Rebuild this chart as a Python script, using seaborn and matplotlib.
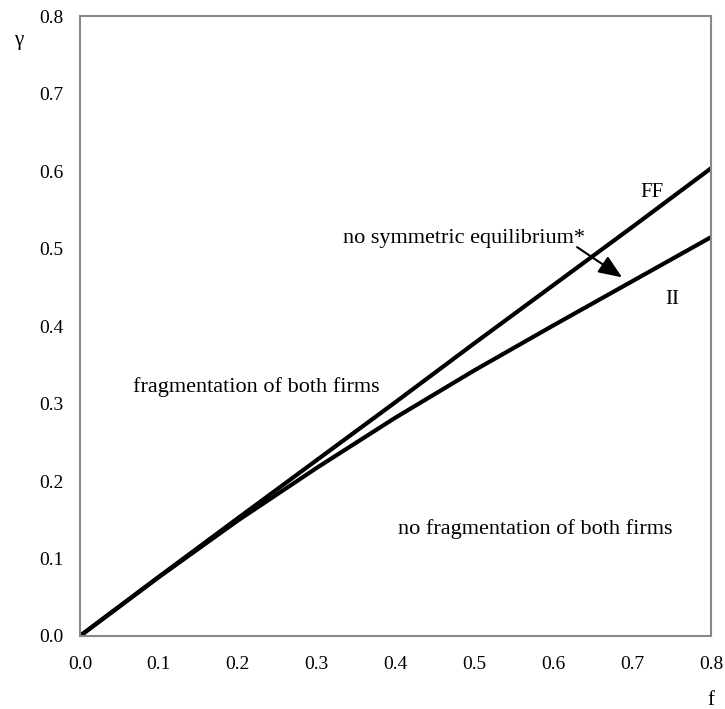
import numpy as np
import pandas as pd
import matplotlib
matplotlib.use("Agg")
import matplotlib.pyplot as plt
import seaborn as sns

# values
f_vals = [0.0, 0.1, 0.2, 0.3, 0.4, 0.5, 0.6, 0.7, 0.8]
ff_vals = [0.0, 0.0765, 0.152, 0.227, 0.302, 0.378, 0.453, 0.528, 0.604]
ii_vals = [0.0, 0.076, 0.149, 0.217, 0.282, 0.343, 0.401, 0.458, 0.515]
tick_vals = [0.0, 0.1, 0.2, 0.3, 0.4, 0.5, 0.6, 0.7, 0.8]

df = pd.DataFrame({
    "f": f_vals * 2,
    "gamma": ff_vals + ii_vals,
    "curve": ["FF"] * len(f_vals) + ["II"] * len(f_vals),
})

sns.set_style("white")
plt.rcParams["font.family"] = ["Liberation Serif", "DejaVu Serif"]
plt.rcParams["font.size"] = 13
plt.rcParams["text.color"] = "black"
plt.rcParams["xtick.color"] = "black"
plt.rcParams["ytick.color"] = "black"

fig = plt.figure(figsize=(7.25, 7.09), dpi=100)
ax = fig.add_axes([0.1103, 0.103, 0.8707, 0.874])

sns.lineplot(data=df, x="f", y="gamma", units="curve", estimator=None,
             color="black", linewidth=3, ax=ax, legend=False,
             solid_joinstyle="round", solid_capstyle="round")

ax.set_xlim(0, 0.8)
ax.set_ylim(0, 0.8)
ax.set_xticks(tick_vals)
ax.set_yticks(tick_vals)
ax.set_xticklabels([f"{t:.1f}" for t in tick_vals])
ax.set_yticklabels([f"{t:.1f}" for t in tick_vals])
ax.tick_params(axis="both", direction="out", length=3.6, width=1.2,
               color="#555555", labelcolor="black", labelsize=14)
ax.tick_params(axis="x", pad=11)
ax.tick_params(axis="y", pad=8)
for s in ax.spines.values():
    s.set_color("#888888")
    s.set_linewidth(1.5)
ax.set_xlabel("")
ax.set_ylabel("")

# axis names
ax.text(-0.078, 0.769, "\u03b3", fontsize=15, ha="center", va="center", clip_on=False)
ax.text(0.8, -0.083, "f", fontsize=15, ha="center", va="center", clip_on=False)

# region labels
ax.text(0.067, 0.321, "fragmentation of both firms", fontsize=16, ha="left", va="center")
ax.text(0.403, 0.138, "no fragmentation of both firms", fontsize=16, ha="left", va="center")
ax.text(0.333, 0.513, "no symmetric equilibrium*", fontsize=16, ha="left", va="center")
ax.text(0.725, 0.573, "FF", fontsize=15, ha="center", va="center")
ax.text(0.751, 0.434, "II", fontsize=15, ha="center", va="center")

ax.annotate("", xy=(0.687, 0.463), xytext=(0.630, 0.502),
            arrowprops=dict(arrowstyle="-|>,head_length=1.1,head_width=0.45",
                            color="black", lw=1.5, shrinkA=0, shrinkB=0))

fig.savefig("out.png", dpi=100)
